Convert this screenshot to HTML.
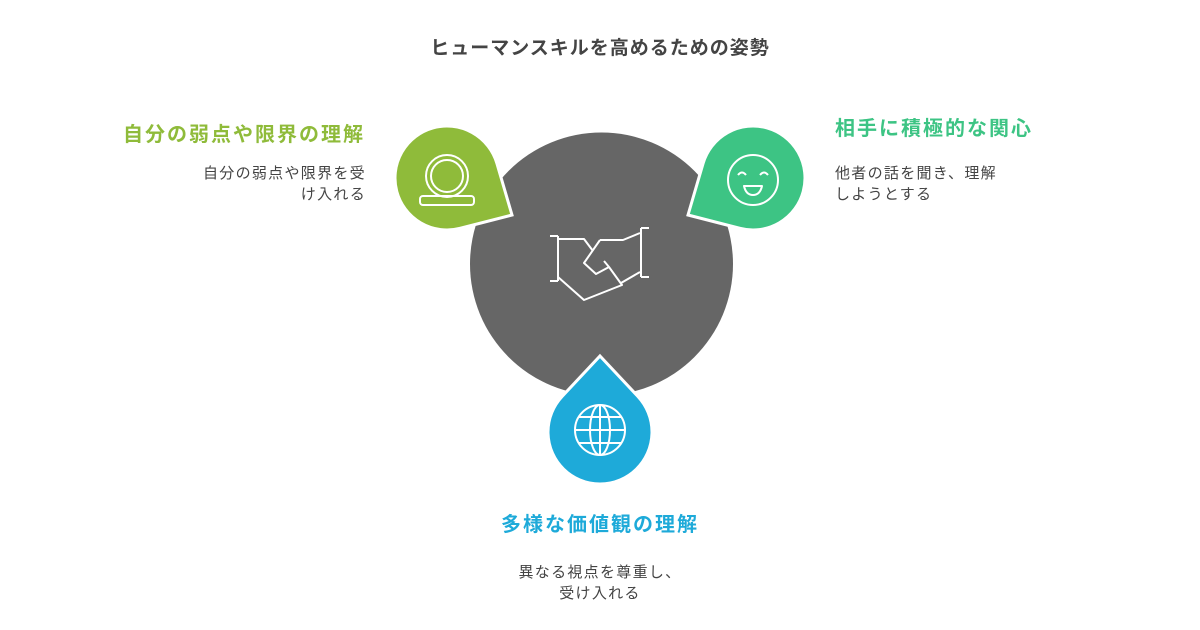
<!DOCTYPE html>
<html><head><meta charset="utf-8">
<style>
body{margin:0;width:1200px;height:630px;background:#fff;position:relative;overflow:hidden;font-family:"Liberation Sans","Noto Sans CJK JP",sans-serif;}
.t{position:absolute;white-space:nowrap;}
.h{font-weight:bold;font-size:20px;letter-spacing:2px;}
.d{font-size:15px;color:#444;line-height:21px;letter-spacing:1.3px;}
</style></head><body>
<div class="t" style="left:0;width:1200px;text-align:center;top:33px;font-size:19px;font-weight:bold;color:#444;letter-spacing:1px">ヒューマンスキルを高めるための姿勢</div>
<div class="t h" style="right:835px;top:118px;color:#8fbb3a;text-align:right">自分の弱点や限界の理解</div>
<div class="t d" style="right:834px;top:163px;text-align:right">自分の弱点や限界を受<br>け入れる</div>
<div class="t h" style="left:835px;top:112px;color:#3dc484">相手に積極的な関心</div>
<div class="t d" style="left:835px;top:163px">他者の話を聞き、理解<br>しようとする</div>
<div class="t h" style="left:0;width:1200px;text-align:center;top:508px;color:#1eaad9">多様な価値観の理解</div>
<div class="t d" style="left:0;width:1200px;text-align:center;top:562px">異なる視点を尊重し、<br>受け入れる</div>
<svg width="1200" height="630" style="position:absolute;left:0;top:0">
<circle cx="601.5" cy="264" r="131.5" fill="#666"/>
<path id="g" fill="#8fbb3a" stroke="#fff" stroke-width="3"/>
<path id="e" fill="#3dc484" stroke="#fff" stroke-width="3"/>
<path id="b" fill="#1eaad9" stroke="#fff" stroke-width="3"/>
<g fill="none" stroke="#fff" stroke-width="2" stroke-linejoin="round">
<!-- handshake -->
<path d="M550 236h8M558 236v45M550 281h8M558 239h26l9 12"/>
<path d="M641 228h8M641 277h8M641 228v49"/>
<path d="M600 240h23l17-7M600 240l-16 23 12 11 13-7-5-6"/>
<path d="M558 277l26 23 38-15-13-18M621 283l19-11"/>
<!-- ring -->
<circle cx="447" cy="176" r="21"/><circle cx="447" cy="176" r="16"/>
<path d="M423 196h48a3 3 0 0 1 3 3v3a3 3 0 0 1-3 3h-48a3 3 0 0 1-3-3v-3a3 3 0 0 1 3-3z"/>
<!-- smile -->
<circle cx="753" cy="180" r="25"/>
<path d="M738 175q4-5 8 0M760 175q4-5 8 0M744 186h18q-2 9-9 9t-9-9z"/>
<!-- globe -->
<circle cx="600" cy="430" r="25"/><ellipse cx="600" cy="430" rx="10" ry="25"/>
<path d="M575 430h50M579 417h42M579 443h42M600 405v50"/>
</g>
</svg>
<script>
function drop(id,cx,cy,r,tx,ty){var dx=tx-cx,dy=ty-cy,d=Math.hypot(dx,dy),a=Math.atan2(dy,dx),b=Math.acos(r/d);
var p1=[cx+r*Math.cos(a+b),cy+r*Math.sin(a+b)],p2=[cx+r*Math.cos(a-b),cy+r*Math.sin(a-b)];
document.getElementById(id).setAttribute('d','M'+tx+' '+ty+'L'+p1+'A'+r+' '+r+' 0 1 1 '+p2+'Z');}
drop('g',447,178,52,512,215);drop('e',753,178,52,688,215);drop('b',600,432,52,600,356);
</script>
</body></html>
